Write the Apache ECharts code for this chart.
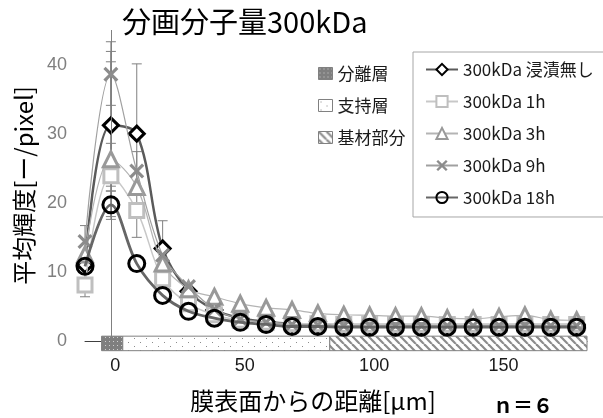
<!DOCTYPE html>
<html><head><meta charset="utf-8">
<script src="https://cdn.jsdelivr.net/npm/echarts@6.0.0/dist/echarts.min.js"></script>
<style>html,body{margin:0;padding:0;background:#fff}#c{width:603px;height:418px}</style>
</head><body><div id="c"></div>
<script>
// ---- data ----
const xValues = [-10, 0, 10, 20, 30, 40, 50, 60, 70, 80, 90, 100, 110, 120, 130, 140, 150, 160, 170, 180];
const seriesNames = ['300kDa 浸漬無し', '300kDa 1h', '300kDa 3h', '300kDa 9h', '300kDa 18h'];
const valsNone = [11.0, 31.2, 30.0, 13.4, 7.2, 4.5, 3.3, 2.8, 2.5, 2.4, 2.3, 2.3, 2.3, 2.3, 2.3, 2.3, 2.3, 2.3, 2.3, 2.3];
const vals1h   = [8.1, 23.9, 18.9, 9.0, 5.4, 3.8, 3.0, 2.7, 2.5, 2.5, 2.4, 2.4, 2.4, 2.4, 2.4, 2.4, 2.4, 2.4, 2.4, 2.4];
const vals3h   = [12.5, 26.3, 22.3, 11.2, 7.5, 6.4, 5.4, 4.8, 4.5, 4.0, 3.8, 3.7, 3.6, 3.6, 3.3, 3.2, 3.5, 3.7, 3.1, 3.0];
const vals9h   = [14.4, 38.6, 24.6, 12.4, 7.9, 4.6, 3.2, 2.7, 2.4, 2.3, 2.2, 2.2, 2.2, 2.2, 2.2, 2.2, 2.2, 2.2, 2.2, 2.2];
const vals18h  = [10.8, 19.7, 11.2, 6.6, 4.3, 3.3, 2.7, 2.4, 2.1, 2.1, 2.0, 2.0, 2.0, 2.0, 2.0, 2.0, 2.0, 2.0, 2.0, 2.0];
// error bars: [x, low, high]
const errorBars = [[-10, 6.4, 16.7], [0, 34.1, 43.3], [0, 22.4, 40.4], [0, 21.7, 28.6], [0, 18.0, 41.9], [0, 17.6, 21.7], [10, 15.0, 40.1], [10, 22.0, 27.4], [20, 9.0, 17.4]];
// membrane layers: [start, end] in µm
const layerNames = ['分離層', '支持層', '基材部分'];
const layerSpans = [[-3.6, 4.6], [4.6, 84.6], [84.6, 184]];
const xTickLabels = [0, 50, 100, 150];
const yTickLabels = [0, 10, 20, 30, 40];

// ---- patterns ----
function makePattern(w, h, draw) {
  const c = document.createElement('canvas'); c.width = w; c.height = h;
  const ctx = c.getContext('2d'); draw(ctx, w, h);
  return { image: c, repeat: 'repeat' };
}
const patSep = makePattern(4, 4, (ctx, w, h) => { ctx.fillStyle = '#7f7f7f'; ctx.fillRect(0, 0, w, h); ctx.fillStyle = '#cfcfcf'; ctx.fillRect(1, 1, 1, 1); });
const patSup = makePattern(12, 8, (ctx, w, h) => { ctx.fillStyle = '#fff'; ctx.fillRect(0, 0, w, h); ctx.fillStyle = '#8c8c8c'; ctx.fillRect(2, 2, 1, 1); ctx.fillRect(8, 6, 1, 1); });
const patBase = makePattern(8, 8, (ctx, w, h) => {
  ctx.fillStyle = '#fff'; ctx.fillRect(0, 0, w, h);
  ctx.strokeStyle = '#8c8c8c'; ctx.lineWidth = 2.2;
  for (const k of [-w, 0, w]) { ctx.beginPath(); ctx.moveTo(k, 0); ctx.lineTo(k + w, h); ctx.stroke(); }
});
const layerPatterns = [patSep, patSup, patBase];

const pairs = v => xValues.map((x, i) => [x, v[i]]);
const xPath = 'path://M3,0 L10,7 L17,0 L20,3 L13,10 L20,17 L17,20 L10,13 L3,20 L0,17 L7,10 L0,3 Z';

const lineDefs = [
  { v: valsNone, symbol: 'diamond', size: 15, fill: '#fff', border: '#000', bw: 3, lc: '#5a5a5a', lw: 2.5 },
  { v: vals1h, symbol: 'rect', size: 14, fill: '#fff', border: '#bfbfbf', bw: 3, lc: '#c8c8c8', lw: 1.5 },
  { v: vals3h, symbol: 'triangle', size: 15, fill: '#fff', border: '#999999', bw: 3, lc: '#b4b4b4', lw: 1.2 },
  { v: vals9h, symbol: xPath, size: 15, fill: '#8c8c8c', border: '#8c8c8c', bw: 0, lc: '#a0a0a0', lw: 1.2 },
  { v: vals18h, symbol: 'circle', size: 16, fill: 'rgba(0,0,0,0)', border: '#000', bw: 3, lc: '#666666', lw: 2.8 }
];

const series = [];
layerNames.forEach((name, i) => {
  series.push({
    type: 'custom', name: name, data: [layerSpans[i]], z: 3, silent: true,
    itemStyle: { color: layerPatterns[i] },
    encode: { x: [0, 1] },
    renderItem: (params, api) => {
      const a = api.coord([api.value(0), 0.7]);
      const b = api.coord([api.value(1), -1.4]);
      return { type: 'rect', shape: { x: a[0], y: a[1], width: b[0] - a[0], height: b[1] - a[1] },
        style: { fill: layerPatterns[i], stroke: '#808080', lineWidth: 1 } };
    }
  });
});
series.push({
  type: 'custom', name: 'err', data: errorBars, z: 2, silent: true,
  encode: { x: 0, y: [1, 2] },
  renderItem: (params, api) => {
    const x = api.value(0);
    const p1 = api.coord([x, api.value(1)]), p2 = api.coord([x, api.value(2)]);
    const st = { stroke: '#808080', lineWidth: 1 };
    return { type: 'group', children: [
      { type: 'line', shape: { x1: p1[0], y1: p1[1], x2: p2[0], y2: p2[1] }, style: st },
      { type: 'line', shape: { x1: p1[0] - 5, y1: p1[1], x2: p1[0] + 5, y2: p1[1] }, style: st },
      { type: 'line', shape: { x1: p2[0] - 5, y1: p2[1], x2: p2[0] + 5, y2: p2[1] }, style: st }
    ] };
  }
});
lineDefs.forEach((d, i) => {
  const s = {
    type: 'line', name: seriesNames[i], data: pairs(d.v), smooth: 0.35,
    symbol: d.symbol, symbolSize: d.size, showAllSymbol: true, z: 4 + i,
    lineStyle: { color: d.lc, width: d.lw },
    itemStyle: { color: d.fill, borderColor: d.border, borderWidth: d.bw },
    emphasis: { disabled: true }
  };
  if (i === 0) {
    s.markLine = { silent: true, symbol: 'none', label: { show: false }, animation: false,
      lineStyle: { color: '#808080', width: 1, type: 'solid' }, data: [{ xAxis: 0 }] };
  }
  series.push(s);
});

const chart = echarts.init(document.getElementById('c'), null, { renderer: 'canvas' });
chart.setOption({
  animation: false,
  backgroundColor: '#fff',
  title: [
    { text: '分画分子量300kDa', left: 122, top: 7, padding: 0,
      textStyle: { fontFamily: 'Noto Sans CJK JP', fontSize: 29, fontWeight: 'normal', color: '#000' } },
    { text: 'ｎ＝６', left: 493, top: 395, padding: 0,
      textStyle: { fontFamily: 'Noto Sans CJK JP', fontSize: 20, fontWeight: 'bold', color: '#000' } }
  ],
  grid: { left: 85, right: 16, top: 30, bottom: 73, containLabel: false },
  xAxis: {
    type: 'value', min: -10, max: 184,
    name: '膜表面からの距離[μm]', nameLocation: 'middle', nameGap: 48,
    nameTextStyle: { fontFamily: 'Noto Sans CJK JP', fontSize: 24, color: '#000', padding: [0, 46, 0, 0] },
    axisLine: { show: true, onZero: true, lineStyle: { color: '#404040', width: 1 } },
    axisTick: { show: false },
    splitLine: { show: false },
    axisLabel: { customValues: xTickLabels, margin: 16, fontFamily: 'Liberation Sans', fontSize: 18, color: '#1a1a1a', padding: [0, 0, 0, 9] }
  },
  yAxis: {
    type: 'value', min: 0, max: 45,
    name: '平均輝度[ー/pixel]', nameLocation: 'middle', nameGap: 42,
    nameTextStyle: { fontFamily: 'Noto Sans CJK JP', fontSize: 24, color: '#000' },
    axisLine: { show: false },
    axisTick: { show: false },
    splitLine: { show: false },
    axisLabel: { customValues: yTickLabels, margin: 18, fontFamily: 'Liberation Sans', fontSize: 18, color: '#7f7f7f' }
  },
  legend: [
    { data: seriesNames, orient: 'vertical', left: 413, top: 52, padding: [9, 10, 11, 12],
      itemWidth: 32, itemHeight: 14, itemGap: 15, borderColor: '#a6a6a6', borderWidth: 1, backgroundColor: '#fff',
      textStyle: { fontFamily: 'Noto Sans CJK JP', fontSize: 17, color: '#1a1a1a' }, selectedMode: false },
    { data: layerNames.map((n, i) => ({ name: n, icon: 'rect', itemStyle: { color: layerPatterns[i], borderColor: '#808080', borderWidth: 1 } })),
      orient: 'vertical', left: 318, top: 65, padding: 0, itemWidth: 14, itemHeight: 12, itemGap: 15,
      textStyle: { fontFamily: 'Noto Sans CJK JP', fontSize: 17, color: '#1a1a1a' }, selectedMode: false }
  ],
  series: series
});
</script></body></html>
